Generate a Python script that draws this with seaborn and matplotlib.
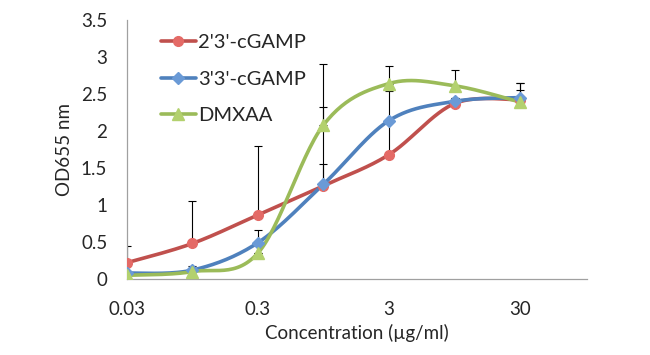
import numpy as np
import pandas as pd
import matplotlib
matplotlib.use("Agg")
import matplotlib.pyplot as plt
import seaborn as sns

concentrations = ["0.03", "0.1", "0.3", "1", "3", "10", "30"]
tick_labels = ["0.03", "0.3", "3", "30"]
series_names = ["2'3'-cGAMP", "3'3'-cGAMP", "DMXAA"]
cgamp23 = [0.22, 0.48, 0.865, 1.26, 1.68, 2.37, 2.42]
cgamp33 = [0.08, 0.12, 0.49, 1.28, 2.14, 2.40, 2.45]
dmxaa = [0.05, 0.10, 0.35, 2.08, 2.64, 2.61, 2.39]
err23 = [0.23, 0.58, 0.935, 1.06, 0.86, 0.07, 0.13]
err33 = [0.0, 0.05, 0.17, 0.27, 0.0, 0.04, 0.20]
err_dm = [0.0, 0.0, 0.0, 0.82, 0.24, 0.21, 0.26]

colors = ["#C0504D", "#4F81BD", "#9BBB59"]
fills = ["#E46A66", "#6A9AD6", "#B3D16E"]
markers = ["o", "D", "^"]
msizes = [7, 6, 8]

df = pd.DataFrame({
    "x": np.tile(np.arange(len(concentrations)), 3),
    "y": cgamp23 + cgamp33 + dmxaa,
    "err": err23 + err33 + err_dm,
    "series": np.repeat(series_names, len(concentrations)),
})


def smooth(x, y, n=30):
    # Catmull-Rom style smoothing like the spreadsheet's smoothed line
    x = np.asarray(x, float)
    y = np.asarray(y, float)
    px = np.concatenate([[x[0]], x, [x[-1]]])
    py = np.concatenate([[y[0]], y, [y[-1]]])
    xs, ys = [], []
    t = np.linspace(0, 1, n)
    for i in range(1, len(px) - 2):
        p0, p1, p2, p3 = [np.array([px[j], py[j]]) for j in (i - 1, i, i + 1, i + 2)]
        c1 = p1 + (p2 - p0) / 6
        c2 = p2 - (p3 - p1) / 6
        pts = ((1 - t) ** 3)[:, None] * p1 + (3 * (1 - t) ** 2 * t)[:, None] * c1 \
            + (3 * (1 - t) * t ** 2)[:, None] * c2 + (t ** 3)[:, None] * p2
        xs.extend(pts[:, 0])
        ys.extend(pts[:, 1])
    return np.array(xs), np.array(ys)


sns.set_style("white")
plt.rcParams["font.family"] = ["Lato", "DejaVu Sans"]

fig = plt.figure(figsize=(6.5, 3.55), dpi=100)
ax = fig.add_axes([0.195, 0.214, 0.708, 0.730])

# error bars (plus only)
for name in series_names:
    sub = df[df["series"] == name]
    ax.errorbar(sub["x"], sub["y"], yerr=[np.zeros(len(sub)), sub["err"]],
                fmt="none", ecolor="black", elinewidth=0.8, capsize=3,
                capthick=0.8, zorder=1)

for name, c, fc, m, ms in zip(series_names, colors, fills, markers, msizes):
    sub = df[df["series"] == name]
    sx, sy = smooth(sub["x"], sub["y"])
    sns.lineplot(x=sx, y=sy, color=c, lw=2.6, ax=ax, sort=False, zorder=2)
    ax.plot(sub["x"], sub["y"], ls="none", marker=m, ms=ms, mfc=fc, mec=fc,
            zorder=3)
    ax.plot([], [], color=c, lw=2.6, marker=m, ms=ms, mfc=fc, mec=fc, label=name)

ax.set_xlim(0, 7.02)
ax.set_ylim(0, 3.5)
ax.set_xticks([0, 2, 4, 6])
ax.set_xticklabels(tick_labels)
ax.set_yticks(np.arange(0, 3.51, 0.5))
ax.set_yticklabels(["0", "0.5", "1", "1.5", "2", "2.5", "3", "3.5"])
ax.tick_params(axis="both", direction="out", length=4, width=0.8, color="#A0A0A0",
               labelsize=13.5)
ax.tick_params(axis="y", pad=10)
ax.tick_params(axis="x", pad=12)
for s in ["top", "right"]:
    ax.spines[s].set_visible(False)
for s in ["left", "bottom"]:
    ax.spines[s].set_color("#A0A0A0")
    ax.spines[s].set_linewidth(0.9)
ax.set_xlabel("Concentration (µg/ml)", fontsize=13.5, labelpad=4)
ax.set_ylabel("OD655 nm", fontsize=13.5, labelpad=6)

leg = ax.legend(loc="upper left", bbox_to_anchor=(0.065, 0.96), frameon=False,
                fontsize=14.5, handlelength=1.75, handletextpad=0.1,
                labelspacing=0.95, borderpad=0.2, borderaxespad=0)

fig.savefig("out.png", dpi=100)
